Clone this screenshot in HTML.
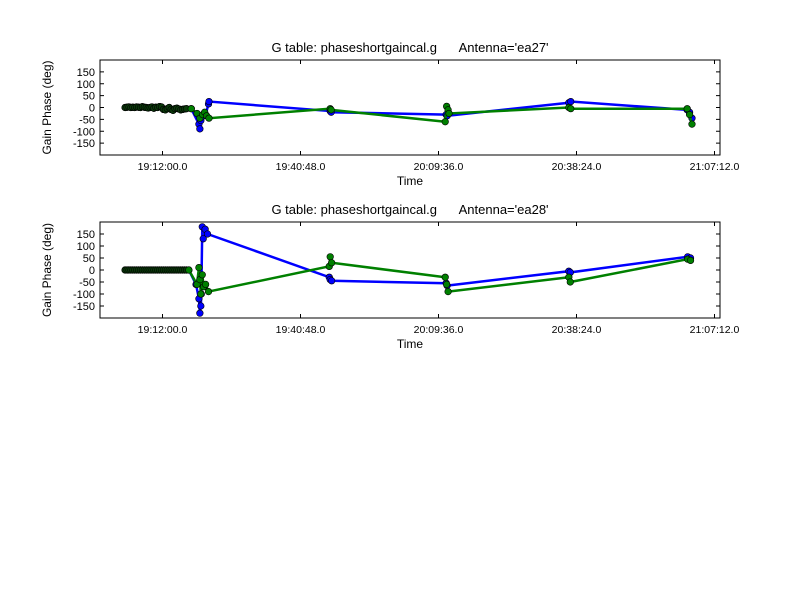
<!DOCTYPE html>
<html><head><meta charset="utf-8"><style>
html,body{margin:0;padding:0;background:#fff;}
svg text{font-family:"Liberation Sans",sans-serif;white-space:pre;}
</style></head><body>
<svg id="chart" width="800" height="600" xmlns="http://www.w3.org/2000/svg"></svg>
<script>
// time in minutes after 19:12:00
const xTickLabels = ["19:12:00.0","19:40:48.0","20:09:36.0","20:38:24.0","21:07:12.0"];
const xTickMinutes = [0, 28.8, 57.6, 86.4, 115.2];
const yTickLabels = [150,100,50,0,-50,-100,-150];
const titles = ["G table: phaseshortgaincal.g\u00a0\u00a0\u00a0\u00a0\u00a0\u00a0Antenna='ea27'","G table: phaseshortgaincal.g\u00a0\u00a0\u00a0\u00a0\u00a0\u00a0Antenna='ea28'"];

const earlyTime = [-7.8,-7.4,-7.0,-6.6,-6.2,-5.8,-5.4,-5.0,-4.6,-4.2,-3.8,-3.4,-3.0,-2.6,-2.2,-1.8,-1.4,-1.0,-0.6,-0.2,0.2,0.6,1.0,1.4,1.8,2.2,2.6,3.0,3.4,3.8,4.2,4.6,5.0];
const earlyPhase1 = [0,1,2,0,1,0,2,1,0,3,1,0,-2,0,2,-3,1,0,4,2,-8,-10,-5,0,-8,-12,-5,-3,-6,-10,-8,-6,-5];
const earlyPhase2 = [0,0,0,0,0,0,0,0,0,0,0,0,0,0,0,0,0,0,0,0,0,0,0,0,0,0,0,0,0,0,0,0,0];

const blueTime1 = earlyTime.concat([6,7.6,7.8,8.0,8.2,9.0,9.6,9.7,35,35.2,59.2,59.4,84.8,85.2,109.5,110,110.5]);
const bluePhase1 = earlyPhase1.concat([-5,-70,-90,-55,-40,-30,15,25,-15,-20,-30,-35,20,25,-10,-20,-45]);
const greenTime1 = earlyTime.concat([6,7.2,7.8,8.4,8.8,9.2,9.7,35,35.2,59.0,59.3,59.6,59.8,84.8,85.2,109.5,110,110.5]);
const greenPhase1 = earlyPhase1.concat([-5,-25,-45,-30,-20,-35,-45,-5,-10,-60,5,-10,-25,0,-5,-5,-30,-70]);

const blueTime2 = earlyTime.concat([5.5,7.0,7.6,7.8,8.0,8.1,8.3,8.5,8.9,9.4,34.8,35.0,35.3,59.2,59.4,84.8,85.1,109.6,110.2]);
const bluePhase2 = earlyPhase2.concat([0,-60,-120,-180,-150,-100,180,130,170,150,-30,-40,-45,-55,-65,-5,-10,55,50]);
const greenTime2 = earlyTime.concat([5.5,7.2,7.6,7.8,8.0,8.3,8.6,9.0,9.6,34.8,35.0,35.3,59.0,59.3,59.6,84.8,85.1,109.6,110.2]);
const greenPhase2 = earlyPhase2.concat([0,-60,10,-40,-100,-20,-70,-60,-90,15,55,30,-30,-60,-90,-30,-50,45,40]);

const NS="http://www.w3.org/2000/svg";
const svg=document.getElementById('chart');
function mk(t,a,p){const e=document.createElementNS(NS,t);for(const k in a)e.setAttribute(k,a[k]);(p||svg).appendChild(e);return e;}
const L=100,R=720;
function xs(m){return 162.5+(m)*(138/28.8);}
const panels=[{top:60,bot:155,b:[blueTime1,bluePhase1],g:[greenTime1,greenPhase1]},
              {top:222,bot:318,b:[blueTime2,bluePhase2],g:[greenTime2,greenPhase2]}];
panels.forEach((p,i)=>{
  const g=mk('g',{});
  
  
  const ys=v=>p.bot-(v+200)/400*(p.bot-p.top);
  const t=mk('text',{x:410,y:p.top-8,'text-anchor':'middle','font-size':13},g);t.textContent=titles[i];
  
  const yl=mk('text',{x:0,y:0,'text-anchor':'middle','font-size':12,transform:`translate(51,${(p.top+p.bot)/2}) rotate(-90)`},g);yl.textContent='Gain Phase (deg)';
  
  const xl=mk('text',{x:410,y:p.bot+30,'text-anchor':'middle','font-size':12},g);xl.textContent='Time';
  
  yTickLabels.forEach(v=>{const y=ys(v);
    mk('line',{x1:L,x2:L+4,y1:y,y2:y,stroke:'#000'},g);mk('line',{x1:R-4,x2:R,y1:y,y2:y,stroke:'#000'},g);
    const tt=mk('text',{x:L-5,y:y+4,'text-anchor':'end','font-size':11},g);tt.textContent=v;
    });
  xTickMinutes.forEach((m,j)=>{const x=xs(m);
    mk('line',{x1:x,x2:x,y1:p.bot,y2:p.bot-4,stroke:'#000'},g);mk('line',{x1:x,x2:x,y1:p.top,y2:p.top+4,stroke:'#000'},g);
    const tt=mk('text',{x:x,y:p.bot+15,'text-anchor':'middle','font-size':10.5},g);tt.textContent=xTickLabels[j];
    });
  [[p.b,'#0000ff','blue'],[p.g,'#008000','green']].forEach(([d,c,n])=>{
    const pts=d[0].map((m,k)=>xs(m)+','+ys(d[1][k])).join(' ');
    const pl=mk('polyline',{points:pts,fill:'none',stroke:c,'stroke-width':2.5},g);
    
    d[0].forEach((m,k)=>{const ci=mk('circle',{cx:xs(m),cy:ys(d[1][k]),r:3.3,fill:(m<5.2)?'#0a3a0a':c,stroke:'#000','stroke-width':0.6},g);
      });
  });
  const fr=mk('rect',{x:L,y:p.top,width:R-L,height:p.bot-p.top,fill:'none',stroke:'#000','stroke-width':1},g);
  
});
</script>
</body></html>
